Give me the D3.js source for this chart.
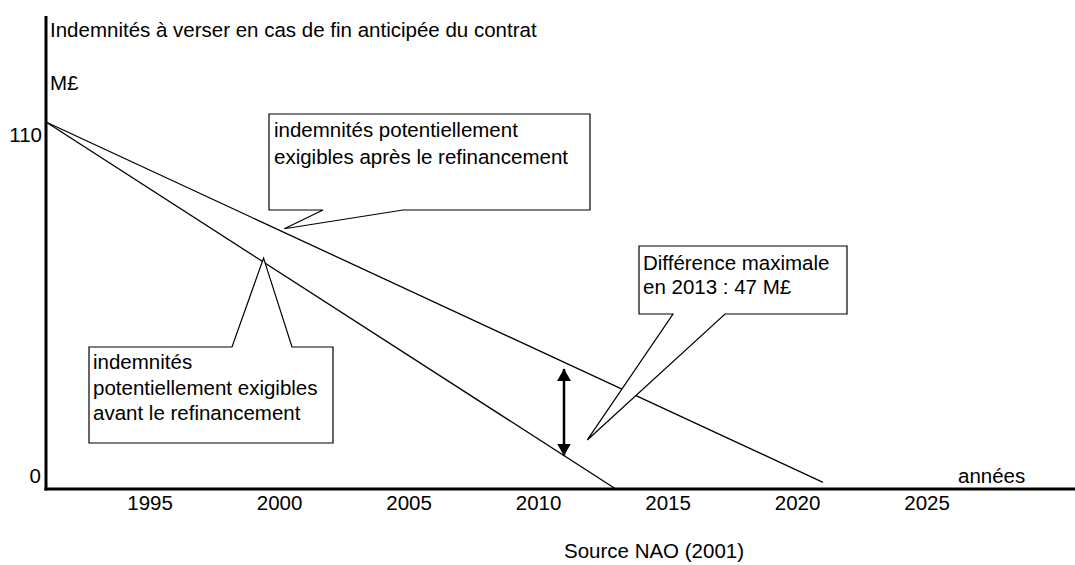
<!DOCTYPE html>
<html>
<head>
<meta charset="utf-8">
<script src="https://cdn.jsdelivr.net/npm/d3@7"></script>
<style>
  html, body { margin: 0; padding: 0; background: #fff; }
  svg { display: block; }
  text { font-family: "Liberation Sans", Arial, sans-serif; font-size: 20.5px; fill: #000; }
</style>
</head>
<body>
<svg id="chart" width="1075" height="565"></svg>
<script>
// ---- data ----
const yearTicks = [1995, 2000, 2005, 2010, 2015, 2020, 2025];
const valueTicks = [0, 110];
const beforeSeries = [{ year: 1991, value: 110 }, { year: 2013, value: 0 }];
const afterSeries = [{ year: 1991, value: 110 }, { year: 2021, value: 2 }];
const gapArrow = { year: 2011, from: 10, to: 36 };
const titleText = "Indemnités à verser en cas de fin anticipée du contrat";
const unitText = "M£";
const xAxisText = "années";
const sourceText = "Source NAO (2001)";
const calloutTexts = [
  ["indemnités potentiellement", "exigibles après le refinancement"],
  ["indemnités", "potentiellement exigibles", "avant le refinancement"],
  ["Différence maximale", "en 2013 : 47 M£"]
];
const calloutTips = [
  { year: 2000.2, value: 78 },
  { year: 1999.4, value: 69.2 },
  { year: 2011.9, value: 14.7 }
];

// ---- layout ----
const svg = d3.select("#chart");
const x0 = 46, yBase = 489, yTopVal = 122;
const x = d3.scaleLinear().domain([1991, 2031]).range([x0, x0 + 40 * 25.9]);
const y = d3.scaleLinear().domain([0, 110]).range([yBase, yTopVal]);

// box layouts: rect + pointer base points on an edge
const boxes = [
  { x1: 269, y1: 114, x2: 590, y2: 210, edge: "bottom", b1: 323, b2: 403, tx: 274, ty: 137, lh: 27 },
  { x1: 89, y1: 347, x2: 333, y2: 443, edge: "top", b1: 232, b2: 292, tx: 93, ty: 369, lh: 25.5 },
  { x1: 639, y1: 246, x2: 847, y2: 314, edge: "bottom", b1: 673, b2: 725, tx: 643, ty: 270, lh: 24 }
];

// ---- lines ----
const line = d3.line().x(d => x(d.year)).y(d => y(d.value));
[beforeSeries, afterSeries].forEach(s => {
  svg.append("path").attr("d", line(s))
    .attr("fill", "none").attr("stroke", "#000").attr("stroke-width", 1.3);
});

// ---- axes ----
svg.append("line").attr("x1", x0).attr("x2", x0).attr("y1", 16).attr("y2", yBase + 1.5)
  .attr("stroke", "#000").attr("stroke-width", 3);
svg.append("line").attr("x1", x0 - 1.5).attr("x2", 1075).attr("y1", yBase).attr("y2", yBase)
  .attr("stroke", "#000").attr("stroke-width", 3);

const xAxis = d3.axisBottom(x).tickValues(yearTicks).tickFormat(d3.format("d")).tickSize(0).tickPadding(0);
const gx = svg.append("g").attr("transform", `translate(0,${yBase})`).call(xAxis);
gx.select(".domain").remove();
gx.selectAll("text").attr("dy", null).attr("y", 21)
  .style("font-family", '"Liberation Sans", Arial, sans-serif').style("font-size", "20.5px").attr("fill", "#000");

const yLabelOffset = { 0: -6, 110: 20 };
svg.selectAll("text.ytick").data(valueTicks).enter().append("text")
  .attr("class", "ytick")
  .attr("x", d => d === 0 ? 41 : 42)
  .attr("y", d => y(d) + yLabelOffset[d])
  .attr("text-anchor", "end")
  .text(d => d);

svg.append("text").attr("x", 50).attr("y", 37).text(titleText);
svg.append("text").attr("x", 50).attr("y", 90).text(unitText);
svg.append("text").attr("x", 958).attr("y", 483).text(xAxisText);
svg.append("text").attr("x", 654).attr("y", 558).attr("text-anchor", "middle").text(sourceText);

// ---- double arrow ----
const defs = svg.append("defs");
defs.append("marker").attr("id", "ah").attr("viewBox", "0 0 12 14")
  .attr("refX", 12).attr("refY", 7).attr("markerWidth", 12).attr("markerHeight", 14)
  .attr("markerUnits", "userSpaceOnUse").attr("orient", "auto-start-reverse")
  .append("path").attr("d", "M0,0 L12,7 L0,14 Z").attr("fill", "#000");
svg.append("line")
  .attr("x1", x(gapArrow.year)).attr("x2", x(gapArrow.year))
  .attr("y1", y(gapArrow.to)).attr("y2", y(gapArrow.from))
  .attr("stroke", "#000").attr("stroke-width", 2.5)
  .attr("marker-start", "url(#ah)").attr("marker-end", "url(#ah)");

// ---- callouts ----
boxes.forEach((b, i) => {
  const tx = x(calloutTips[i].year), ty = y(calloutTips[i].value);
  let pts;
  if (b.edge === "bottom") {
    pts = [[b.x1, b.y1], [b.x2, b.y1], [b.x2, b.y2], [b.b2, b.y2], [tx, ty], [b.b1, b.y2], [b.x1, b.y2]];
  } else {
    pts = [[b.x1, b.y1], [b.b1, b.y1], [tx, ty], [b.b2, b.y1], [b.x2, b.y1], [b.x2, b.y2], [b.x1, b.y2]];
  }
  svg.append("path").attr("d", "M" + pts.map(p => p.join(",")).join("L") + "Z")
    .attr("fill", "#fff").attr("stroke", "#000").attr("stroke-width", 1.2);
  const t = svg.append("text").attr("x", b.tx).attr("y", b.ty);
  calloutTexts[i].forEach((ln, j) => {
    t.append("tspan").attr("x", b.tx).attr("y", b.ty + j * b.lh).text(ln);
  });
});
</script>
</body>
</html>
